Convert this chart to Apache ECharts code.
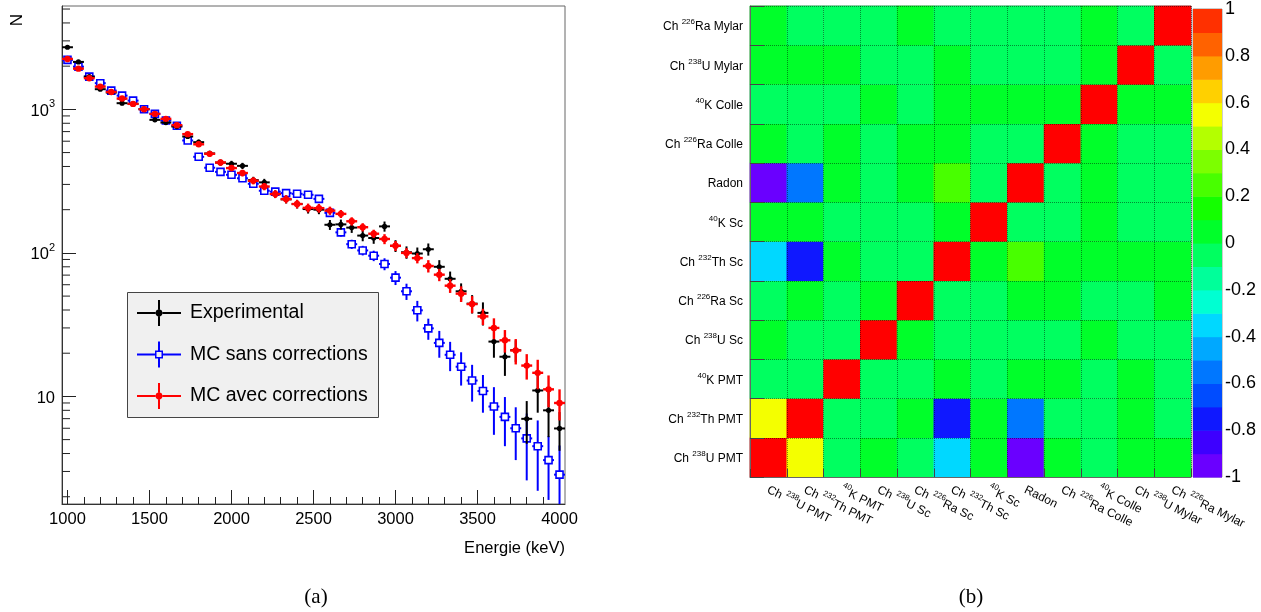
<!DOCTYPE html>
<html><head><meta charset="utf-8">
<script src="https://cdn.jsdelivr.net/npm/echarts@6/dist/echarts.min.js"></script>
<style>html,body{margin:0;padding:0;background:#fff}#c{width:1261px;height:612px}</style>
</head><body><div id="c"></div>
<script>
// ---------------- data: left panel (a) ----------------
const energies = [1000,1067,1133,1200,1267,1333,1400,1467,1533,1600,1667,1733,1800,1867,1933,2000,2067,2133,2200,2267,2333,2400,2467,2533,2600,2667,2733,2800,2867,2933,3000,3067,3133,3200,3267,3333,3400,3467,3533,3600,3667,3733,3800,3867,3933,4000];
const binWidth = 66.67;
const expCounts = [2709,2141,1692,1382,1309,1104,1092,1003,845,809,759,647,591,493,426,418,404,321,310,257,236,219,202,200,157,158,150,132,127,153,112,101,99,106,80,66,54,44.3,38.2,24.1,18.9,21.0,6.98,11.0,8.0,5.98];
const expErr = [52,46,41,37,36,33,33,32,29,28,28,25,24,22,21,20,20,18,18,16,15,15,14,14,12.5,12.6,12.2,11.5,11.3,12.4,10.6,10,10,10.3,9,8.1,7.3,6.5,7,5.5,5,3.6,2.3,3.3,2.8,1.8];
const mcRaw = [2211,1985,1692,1522,1351,1247,1151,1003,930,836,768,607,467,392,367,350,331,303,271,267,261,258,254,238,190,139,115,104,95.6,83.7,67.2,54.0,39.8,29.8,23.6,19.5,16.1,12.9,10.9,8.5,7.2,6.0,5.1,4.5,3.6,2.85];
const mcRawErr = [88,79,68,61,54,50,46,40,37,33,31,24,19,16,15,14,13,12,11,11,11,11,11,11,10,9,8.5,8,8,8,7.5,7,6.5,5,5,4.5,4.2,3.7,3.2,3.1,2.7,2.4,2.5,2.3,1.7,1.7];
const mcCorr = [2246,1922,1649,1441,1323,1189,1092,1003,930,859,776,672,571,490,426,390,360,318,290,257,237,219,206,205,197,187,166,151,136,125,112,100,92,81,70.5,59.1,52.0,44.0,36.1,30.0,24.6,20.9,16.4,14.6,11.2,9.0];
const mcCorrErr = [60,52,46,42,40,37,35,33,31,30,28,26,24,22,21,20,19,18,17,16,15.5,15,14.5,14.5,13,12,11,10,9,10,9,8,7.5,8,7,6.5,6.5,6,4.7,5,4.4,4.2,3.3,3.4,2.8,2.2];
const seriesNames = ['Experimental','MC sans corrections','MC avec corrections'];
const xTickValues = [1000,1500,2000,2500,3000,3500,4000];
const xMinorTicks = [1000,1100,1200,1300,1400,1500,1600,1700,1800,1900,2000,2100,2200,2300,2400,2500,2600,2700,2800,2900,3000,3100,3200,3300,3400,3500,3600,3700,3800,3900,4000];
const yTickValues = [10,100,1000];
const yTickLabels = ['10','10^2','10^3'];
const yMinorTicks = [2,3,4,5,6,7,8,9,20,30,40,50,60,70,80,90,200,300,400,500,600,700,800,900,2000,3000,4000,5000];
const X_MIN = 966.67, X_MAX = 4033.33, Y_MIN = 1.78, Y_MAX = 5250;

// ---------------- data: right panel (b) ----------------
const corrLabels = ['Ch ^238U PMT','Ch ^232Th PMT','^40K PMT','Ch ^238U Sc','Ch ^226Ra Sc','Ch ^232Th Sc','^40K Sc','Radon','Ch ^226Ra Colle','^40K Colle','Ch ^238U Mylar','Ch ^226Ra Mylar'];
// row j = y category (0 = bottom), column i = x category
const corrMatrix = [
 [1,0.55,-0.05,0.05,-0.05,-0.35,0.05,-0.93,0.05,-0.05,0.05,0.05],
 [0.55,1,-0.05,-0.05,0.05,-0.75,0.05,-0.55,-0.05,-0.05,0.05,-0.05],
 [-0.05,-0.05,1,-0.05,-0.05,0.05,-0.05,0.05,0.05,-0.05,0.05,-0.05],
 [0.05,-0.05,-0.05,1,0.05,-0.05,-0.05,-0.05,-0.05,0.05,-0.05,-0.05],
 [-0.05,0.05,-0.05,0.05,1,-0.05,-0.05,0.05,0.05,-0.05,-0.05,0.05],
 [-0.35,-0.75,0.05,-0.05,-0.05,1,0.05,0.22,0.05,0.05,0.05,0.05],
 [0.05,0.05,-0.05,-0.05,-0.05,0.05,1,-0.05,-0.05,0.05,-0.05,-0.05],
 [-0.93,-0.55,0.05,-0.05,0.05,0.22,-0.05,1,-0.05,0.05,-0.05,-0.05],
 [0.05,-0.05,0.05,-0.05,0.05,0.05,-0.05,-0.05,1,0.05,-0.05,-0.05],
 [-0.05,-0.05,-0.05,0.05,-0.05,0.05,0.05,0.05,0.05,1,0.05,0.05],
 [0.05,0.05,0.05,-0.05,-0.05,0.05,-0.05,-0.05,-0.05,0.05,1,-0.05],
 [0.05,-0.05,-0.05,-0.05,0.05,-0.05,-0.05,-0.05,-0.05,0.05,-0.05,1]
];
const colorLevels = [-1,-0.9,-0.8,-0.7,-0.6,-0.5,-0.4,-0.3,-0.2,-0.1,0,0.1,0.2,0.3,0.4,0.5,0.6,0.7,0.8,0.9];
const colorBand = ['#6a00ff','#3d00ff','#0f18ff','#004cff','#0077ff','#00a8ff','#00d8ff','#00ffd2','#00ff9a','#00ff60','#00ff2a','#14ff00','#48ff00','#7cff00','#b4ff00','#f4ff00','#ffd000','#ff9c00','#ff6200','#ff3000'];
const colorbarTicks = [-1,-0.8,-0.6,-0.4,-0.2,0,0.2,0.4,0.6,0.8,1];

// ---------------- fonts ----------------
const FF = '"Liberation Sans", Arial, Helvetica, sans-serif';
const SERIF = '"Liberation Serif", "DejaVu Serif", serif';

function markup(str){
  return str.split(/(\^\d+)/).filter(s => s.length).map(s => s[0] === '^' ? '{s|' + s.slice(1) + '}' : '{n|' + s + '}').join('');
}
function richStyle(size, sup){
  return {
    n: {fontFamily: FF, fontSize: size, lineHeight: Math.round(size * 1.25), verticalAlign: 'bottom', color: '#000'},
    s: {fontFamily: FF, fontSize: sup, lineHeight: Math.round(sup), verticalAlign: 'top', color: '#000'}
  };
}

// ---------------- error-bar series ----------------
function errSeries(name, vals, errs, color, marker, lw, z){
  return {
    type: 'custom', name: name, xAxisIndex: 0, yAxisIndex: 0, clip: true, z: z,
    itemStyle: {color: color},
    data: energies.map((e, i) => [e, vals[i], errs[i]]),
    encode: {x: 0, y: 1},
    renderItem: function(params, api){
      const x = api.value(0), y = api.value(1), er = api.value(2);
      const h = binWidth / 2;
      const c = api.coord([x, y]);
      const l = api.coord([Math.max(x - h, X_MIN), y]), r = api.coord([Math.min(x + h, X_MAX), y]);
      const t = api.coord([x, Math.min(y + er, Y_MAX)]);
      const b = api.coord([x, Math.max(y - er, Y_MIN)]);
      const kids = [
        {type: 'line', shape: {x1: l[0], y1: c[1], x2: r[0], y2: c[1]}, style: {stroke: color, lineWidth: lw}},
        {type: 'line', shape: {x1: c[0], y1: t[1], x2: c[0], y2: b[1]}, style: {stroke: color, lineWidth: lw}}
      ];
      if (marker === 'square') {
        kids.push({type: 'rect', shape: {x: c[0] - 3.5, y: c[1] - 3.5, width: 7, height: 7}, style: {fill: '#fff', stroke: color, lineWidth: 1.6}});
      } else {
        kids.push({type: 'circle', shape: {cx: c[0], cy: c[1], r: marker}, style: {fill: color}});
      }
      return {type: 'group', children: kids};
    }
  };
}

const iconCircle = 'path://M0,12h18.5v2h-18.5z M25.5,12h18.5v2h-18.5z M21,0h2v9.6h-2z M21,16.4h2v9.6h-2z M18.6,13a3.4,3.4 0 1,1 6.8,0a3.4,3.4 0 1,1 -6.8,0z';
const iconSquare = 'path://M0,12h18v2h-18z M26,12h18v2h-18z M21,0h2v9h-2z M21,17h2v9h-2z M18,9h8v8h-8z M19.5,10.5v5h5v-5z';

const heatData = [];
corrMatrix.forEach((row, j) => row.forEach((v, i) => heatData.push([i, j, v])));

const pieces = [{value: 1, color: '#ff0000'}].concat(colorLevels.map((lo, i) => ({gte: lo - 1e-9, lt: lo + 0.1 - 1e-9, color: colorBand[i]})));

const chart = echarts.init(document.getElementById('c'), null, {renderer: 'canvas'});
const option = {
  animation: false,
  backgroundColor: '#fff',
  grid: [
    {left: 62, top: 6, width: 503, height: 498, show: true, borderColor: '#666', borderWidth: 1, containLabel: false},
    {left: 750, top: 6, width: 441, height: 471, show: true, borderColor: '#777', borderWidth: 1, containLabel: false},
    {left: 1193, top: 6, width: 29, height: 471, show: true, borderColor: '#999', borderWidth: 1, containLabel: false}
  ],
  xAxis: [
    {gridIndex: 0, type: 'value', min: X_MIN, max: X_MAX, position: 'bottom',
     axisLine: {onZero: false, lineStyle: {color: '#333', width: 1}},
     axisTick: {inside: true, length: 14, customValues: xTickValues, lineStyle: {color: '#222'}},
     axisLabel: {customValues: xTickValues, fontFamily: FF, fontSize: 16.5, color: '#000', margin: 7, formatter: v => String(Math.round(v))},
     splitLine: {show: false},
     name: 'Energie (keV)', nameLocation: 'end', nameGap: 0,
     nameTextStyle: {fontFamily: FF, fontSize: 16.5, color: '#000', align: 'right', verticalAlign: 'top', padding: [36, 0, 0, 0]}},
    {gridIndex: 0, type: 'value', min: X_MIN, max: X_MAX, position: 'bottom',
     axisLine: {show: false}, axisLabel: {show: false}, splitLine: {show: false},
     axisTick: {inside: true, length: 7, customValues: xMinorTicks, lineStyle: {color: '#222'}}},
    {gridIndex: 1, type: 'category', data: corrLabels, position: 'bottom', z: 10,
     axisLine: {lineStyle: {color: '#666'}},
     axisTick: {show: true, inside: true, length: 8, interval: 0, lineStyle: {color: '#444'}},
     splitLine: {show: true, interval: 0, lineStyle: {type: 'dotted', color: 'rgba(0,0,0,0.45)', width: 1}},
     axisLabel: {interval: 0, rotate: -26, margin: 11, formatter: v => markup(v), rich: richStyle(12, 8)}},
    {gridIndex: 2, type: 'category', data: [''], show: false}
  ],
  yAxis: [
    {gridIndex: 0, type: 'log', logBase: 10, min: Y_MIN, max: Y_MAX,
     axisLine: {onZero: false, lineStyle: {color: '#333', width: 1}},
     axisTick: {inside: true, length: 14, lineStyle: {color: '#222'}},
     minorTick: {show: false}, splitLine: {show: false},
     axisLabel: {margin: 7, showMinLabel: false, showMaxLabel: false,
       formatter: v => { const i = yTickValues.findIndex(t => Math.abs(t - v) / t < 1e-4); return i < 0 ? '' : markup(yTickLabels[i]); },
       rich: richStyle(16.5, 11)}},
    {gridIndex: 1, type: 'category', data: corrLabels, position: 'left', z: 10,
     axisLine: {lineStyle: {color: '#666'}},
     axisTick: {show: true, inside: true, length: 14, interval: 0, lineStyle: {color: '#444'}},
     splitLine: {show: true, interval: 0, lineStyle: {type: 'dotted', color: 'rgba(0,0,0,0.45)', width: 1}},
     axisLabel: {interval: 0, margin: 7, formatter: v => markup(v), rich: richStyle(12, 8)}},
    {gridIndex: 2, type: 'value', min: -1, max: 1, interval: 0.2, position: 'right', z: 10,
     axisLine: {show: false},
     axisTick: {inside: true, length: 14, lineStyle: {color: '#111'}},
     splitLine: {show: false},
     axisLabel: {margin: 3, fontFamily: FF, fontSize: 18, color: '#000',
       formatter: v => { const i = colorbarTicks.findIndex(t => Math.abs(t - v) < 1e-6); return i < 0 ? '' : String(colorbarTicks[i]); }}}
  ],
  visualMap: {type: 'piecewise', show: false, seriesIndex: 4, dimension: 2, pieces: pieces},
  legend: {
    left: 137, top: 300, orient: 'vertical', itemWidth: 44, itemHeight: 26, itemGap: 15.5, padding: 0, z: 6,
    selectedMode: false,
    textStyle: {fontFamily: FF, fontSize: 19.5, lineHeight: 26, color: '#000', padding: [0, 0, 0, 4]},
    data: [
      {name: seriesNames[0], icon: iconCircle},
      {name: seriesNames[1], icon: iconSquare},
      {name: seriesNames[2], icon: iconCircle}
    ]
  },
  graphic: [
    {type: 'rect', left: 127, top: 292, z: 3, shape: {width: 251, height: 125}, style: {fill: '#f0f0f0', stroke: '#444', lineWidth: 1}},
    {type: 'text', x: 17, y: 20, rotation: Math.PI / 2, z: 5, style: {text: 'N', fontFamily: FF, fontSize: 17, fill: '#000', textAlign: 'center', textVerticalAlign: 'middle'}},
    {type: 'text', x: 316, y: 597, z: 5, style: {text: '(a)', fontFamily: SERIF, fontSize: 21, fill: '#000', textAlign: 'center', textVerticalAlign: 'middle'}},
    {type: 'text', x: 971, y: 597, z: 5, style: {text: '(b)', fontFamily: SERIF, fontSize: 21, fill: '#000', textAlign: 'center', textVerticalAlign: 'middle'}}
  ],
  series: [
    errSeries(seriesNames[1], mcRaw, mcRawErr, '#0000ff', 'square', 2, 3),
    errSeries(seriesNames[0], expCounts, expErr, '#000000', 2.6, 2, 4),
    errSeries(seriesNames[2], mcCorr, mcCorrErr, '#ff0000', 3.2, 2.4, 5),
    {type: 'custom', name: 'yMinor', xAxisIndex: 0, yAxisIndex: 0, silent: true, z: 2,
     data: yMinorTicks.map(v => [X_MIN, v]), encode: {x: 0, y: 1},
     renderItem: function(params, api){
       const c = api.coord([api.value(0), api.value(1)]);
       return {type: 'line', shape: {x1: c[0], y1: c[1], x2: c[0] + 8, y2: c[1]}, style: {stroke: '#222', lineWidth: 1}};
     }},
    {type: 'heatmap', name: 'corr', xAxisIndex: 2, yAxisIndex: 1, data: heatData, z: 2,
     itemStyle: {borderWidth: 0}, emphasis: {disabled: true}},
    {type: 'custom', name: 'colorbar', xAxisIndex: 3, yAxisIndex: 2, silent: true, z: 2,
     data: colorLevels.map((lo, i) => [0, lo, i]), encode: {x: 0, y: 1},
     renderItem: function(params, api){
       const lo = api.value(1), i = api.value(2);
       const p0 = api.coord([0, lo]), p1 = api.coord([0, lo + 0.1]);
       const cs = params.coordSys;
       return {type: 'rect', shape: {x: cs.x, y: p1[1], width: cs.width, height: p0[1] - p1[1] + 0.6}, style: {fill: colorBand[i]}};
     }}
  ]
};
chart.setOption(option);
</script>
</body></html>
